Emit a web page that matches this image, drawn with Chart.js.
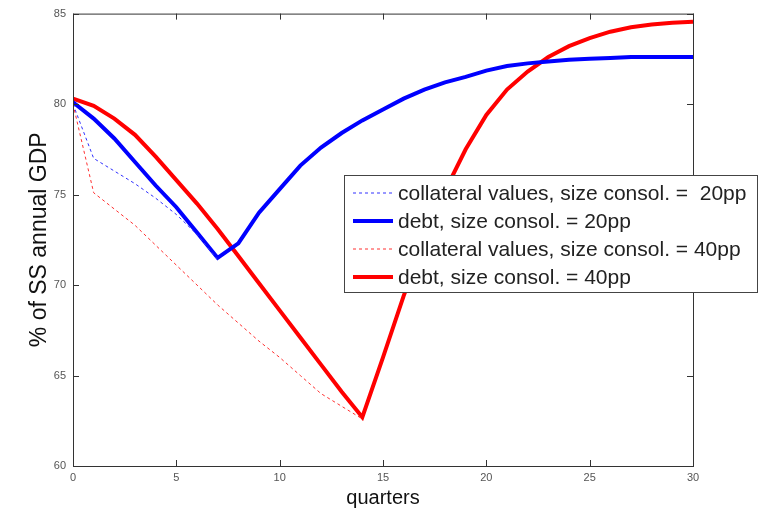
<!DOCTYPE html>
<html>
<head>
<meta charset="utf-8">
<script src="https://cdn.jsdelivr.net/npm/chart.js@4.4.1/dist/chart.umd.min.js"></script>
<style>
  html, body { margin: 0; padding: 0; background: #fff; }
  canvas { display: block; }
</style>
</head>
<body>
<canvas id="debtChart" width="767" height="511"></canvas>
<script>
// quarters after the shock
const quarters = [0, 1, 2, 3, 4, 5, 6, 7, 8, 9, 10, 11, 12, 13, 14, 15, 16, 17, 18, 19, 20, 21, 22, 23, 24, 25, 26, 27, 28, 29, 30];

// % of SS annual GDP
const collat20 = [80.0, 77.0, 76.3, 75.6, 74.8, 73.9, 72.8, 71.4];
const debt20 = [80.1, 79.2, 78.1, 76.8, 75.5, 74.3, 72.9, 71.5, 72.3, 74.0, 75.3, 76.6, 77.6, 78.4, 79.1, 79.7,
  80.3, 80.8, 81.2, 81.5, 81.85, 82.1, 82.25, 82.35, 82.45, 82.5, 82.55, 82.6, 82.6, 82.6, 82.6];
const collat40 = [80.0, 75.1, 74.2, 73.3, 72.2, 71.1, 70.0, 68.9, 67.9, 66.9, 66.0, 65.0, 64.0, 63.3, 62.6];
const debt40 = [80.3, 79.9, 79.2, 78.3, 77.1, 75.8, 74.5, 73.1, 71.6, 70.1, 68.6, 67.1, 65.6, 64.1, 62.7, 66.0,
  69.4, 72.4, 75.2, 77.5, 79.4, 80.8, 81.8, 82.6, 83.2, 83.65, 84.0, 84.25, 84.4, 84.5, 84.55];

const xTicks = [0, 5, 10, 15, 20, 25, 30];
const yTicks = [60, 65, 70, 75, 80, 85];

const legendLabels = [
  'collateral values, size consol. =  20pp',
  'debt, size consol. = 20pp',
  'collateral values, size consol. = 40pp',
  'debt, size consol. = 40pp'
];

function toPoints(vals) {
  return vals.map((v, i) => ({ x: quarters[i], y: v }));
}

// matlab style box with inward ticks
const boxPlugin = {
  id: 'boxPlugin',
  afterDraw(chart) {
    const { ctx, chartArea: a, scales } = chart;
    ctx.save();
    ctx.strokeStyle = '#333';
    ctx.lineWidth = 1;
    ctx.strokeRect(a.left + 0.5, a.top + 0.5, a.right - a.left, a.bottom - a.top);
    ctx.beginPath();
    xTicks.forEach(t => {
      const px = Math.round(scales.x.getPixelForValue(t)) + 0.5;
      ctx.moveTo(px, a.bottom); ctx.lineTo(px, a.bottom - 6);
      ctx.moveTo(px, a.top); ctx.lineTo(px, a.top + 6);
    });
    yTicks.forEach(t => {
      const py = Math.round(scales.y.getPixelForValue(t)) + 0.5;
      ctx.moveTo(a.left, py); ctx.lineTo(a.left + 6, py);
      ctx.moveTo(a.right, py); ctx.lineTo(a.right - 6, py);
    });
    ctx.stroke();
    ctx.restore();
  }
};

// legend box sitting over the lines
const legendPlugin = {
  id: 'legendPlugin',
  afterDraw(chart) {
    const { ctx } = chart;
    const bx = 344, by = 175, bw = 413, bh = 117;
    ctx.save();
    ctx.fillStyle = '#fff';
    ctx.fillRect(bx, by, bw, bh);
    ctx.strokeStyle = '#444';
    ctx.lineWidth = 1;
    ctx.strokeRect(bx + 0.5, by + 0.5, bw, bh);
    ctx.font = '21px "Liberation Sans", Arial, sans-serif';
    ctx.textBaseline = 'middle';
    chart.data.datasets.forEach((ds, i) => {
      const y = by + 18 + i * 28;
      ctx.beginPath();
      ctx.strokeStyle = ds.borderColor;
      ctx.lineWidth = ds.borderWidth;
      ctx.setLineDash(ds.borderDash || []);
      ctx.moveTo(bx + 9, y);
      ctx.lineTo(bx + 49, y);
      ctx.stroke();
      ctx.setLineDash([]);
      ctx.fillStyle = '#222';
      ctx.fillText(legendLabels[i], bx + 54, y + 1);
    });
    ctx.restore();
  }
};

new Chart(document.getElementById('debtChart'), {
  type: 'line',
  data: {
    datasets: [
      { label: legendLabels[0], data: toPoints(collat20), borderColor: '#3030ff', borderWidth: 1, borderDash: [3, 3] },
      { label: legendLabels[1], data: toPoints(debt20), borderColor: '#0000ff', borderWidth: 4 },
      { label: legendLabels[2], data: toPoints(collat40), borderColor: '#ff3030', borderWidth: 1, borderDash: [3, 3] },
      { label: legendLabels[3], data: toPoints(debt40), borderColor: '#ff0000', borderWidth: 4 }
    ]
  },
  options: {
    responsive: false,
    animation: false,
    events: [],
    elements: { point: { radius: 0 }, line: { tension: 0 } },
    layout: { padding: { left: 0, top: 12, right: 74, bottom: 0 } },
    plugins: { legend: { display: false }, tooltip: { enabled: false } },
    scales: {
      x: {
        type: 'linear', min: 0, max: 30,
        afterFit: s => { s.height = 45; },
        afterBuildTicks: s => { s.ticks = xTicks.map(v => ({ value: v })); },
        grid: { display: false, drawTicks: false },
        border: { display: false },
        ticks: { padding: 5, color: '#555', font: { family: '"Liberation Sans Narrow", "Liberation Sans", sans-serif', size: 11 } },
        title: { display: true, text: 'quarters', color: '#111', padding: { top: 0, bottom: 1 },
          font: { family: '"Liberation Sans", Arial, sans-serif', size: 20 } }
      },
      y: {
        min: 60, max: 85,
        afterFit: s => { s.width = 73; },
        afterBuildTicks: s => { s.ticks = yTicks.map(v => ({ value: v })); },
        grid: { display: false, drawTicks: false },
        border: { display: false },
        ticks: { padding: 7, color: '#555', font: { family: '"Liberation Sans Narrow", "Liberation Sans", sans-serif', size: 11 } },
        title: { display: true, text: '% of SS annual GDP', color: '#111', padding: { top: 26, bottom: 0 },
          font: { family: '"Liberation Sans", Arial, sans-serif', size: 23 } }
      }
    }
  },
  plugins: [boxPlugin, legendPlugin]
});
</script>
</body>
</html>
